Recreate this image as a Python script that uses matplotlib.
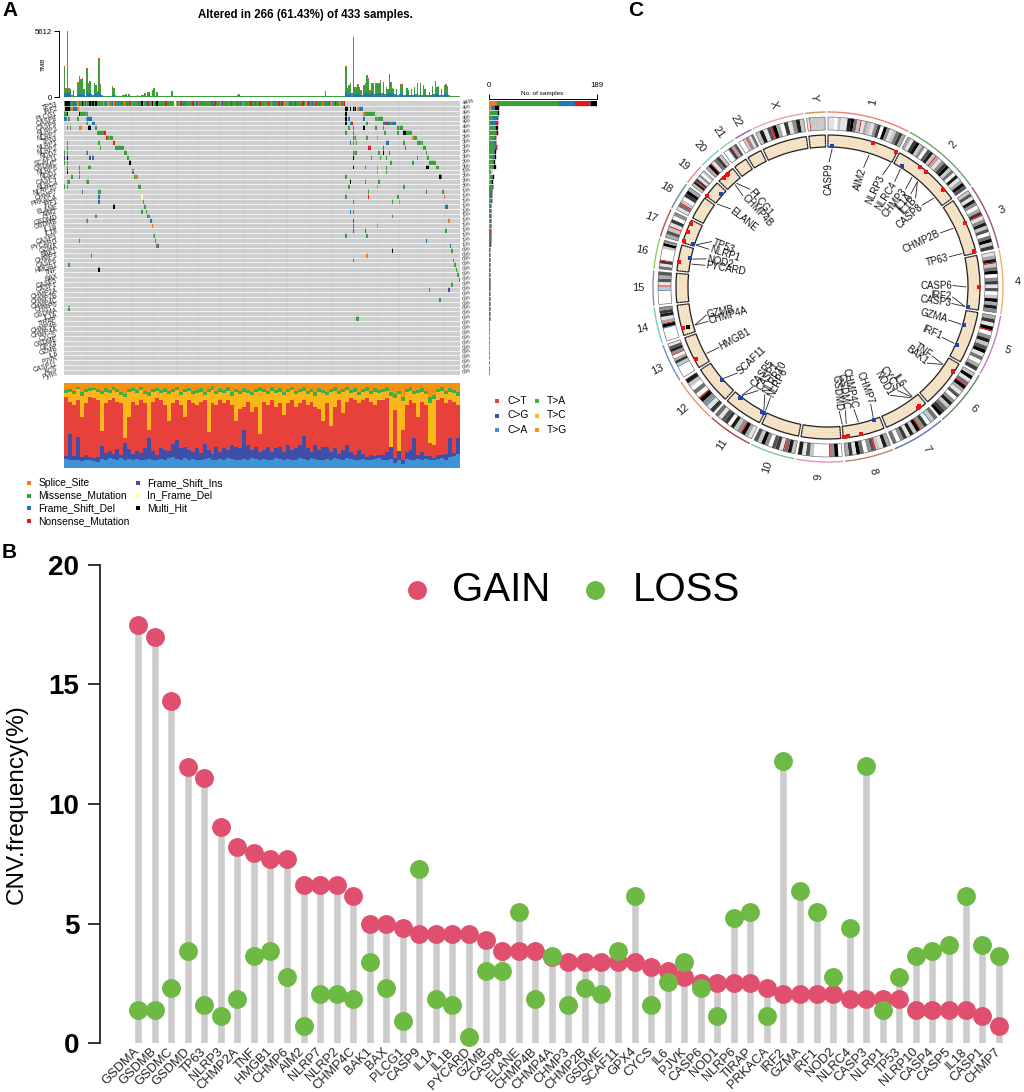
import numpy as np
import matplotlib
matplotlib.use("Agg")
import matplotlib.pyplot as plt
from matplotlib.colors import ListedColormap
from matplotlib.patches import Wedge

plt.rcParams['font.family'] = ['Liberation Sans', 'DejaVu Sans']

W, H = 1024, 1092

# ---------- panel A data ----------
onco_genes = ["TP53", "IRF2", "PLCG1", "CASP8", "CASP9", "NLRP3", "NLRP7", "TP63", "NLRP1", "NLRP2",
              "NOD2", "SCAF11", "GSDMC", "NLRP6", "NOD1", "CASP4", "NLRC4", "NLRP10", "CHMP7", "PRKACA",
              "IRF1", "ELANE", "AIM2", "GSDMD", "GSDMB", "IL1B", "IL18", "CASP3", "PYCARD", "GZMA",
              "BAK1", "CHMP3", "CASP6", "HMGB1", "TNF", "BAX", "CASP5", "CASP1", "CHMP2A", "CHMP2B",
              "CHMP4C", "CHMP6", "GSDMA", "IL1A", "TIRAP", "CHMP4B", "CHMP4A", "CYCS", "GSDME", "GPX4",
              "GZMB", "IL6", "PJVK", "CASP11", "ACS", "Pyrin"]

kinds = ".SMFNIDH"
kind_colors = ["#CFCFCF", "#F47A20", "#3C9E3C", "#1F78B4", "#E31A1C", "#6A3D9A", "#FFFF99", "#000000"]
kind_names = ["Splice_Site", "Missense_Mutation", "Frame_Shift_Del", "Nonsense_Mutation",
              "Frame_Shift_Ins", "In_Frame_Del", "Multi_Hit"]

# first row, one letter per sample
tp53_calls = ("MHHHFMNFMS" "FMHMNFMHNH" "MHMMMMSMFS" "NMFSNMFMNM" "SMFMNFMMMM" "FMHSMFNMMH"
              "MFHMMMMMNM" "MMMMDMMSNM" "FMMMMMNMSF" "NMFMMMMMMF" "MNMMMMIMFM" "MMNMMMNMFM"
              "MMMMMNMMFM" "MNMMMFMNMS" "MFMMNMIMSM" "MMFMMNMMMM" "NMSMIMFMMN" "MFMSMMFMNS"
              "FMNMMSFMN")

# other rows: sample number + mutation kind
call_rows = list(range(1, 39)) + [40, 42, 44]
call_text = [
    "1H 2H 3H 4M 5S 6F 7F 8F 9S 189H 190H 192H 194H 195H 197S 198M 199F 200F",
    "0M 1M 2H 10H 11M 12M 13M 14M 15M 189H 201S 202M 203M 204M 205M 206M 207M 208M",
    "0F 1F 3M 9M 15F 16F 17F 18F 189H 191F 201F 209M 210M 211M 212M 213M",
    "15M 19F 20F 189H 192F 193N 203M 214F 215F 216N 217F 218F 219M 220F 221F 222F",
    "2M 4M 10S 11S 16H 17H 21M 191M 194M 201H 209M 214M 224M 225M 226M 227M",
    "22M 23M 24M 25M 26M 27N 189M 194M 215M 224M 228H 229H 230M 231M 232M 233M",
    "28N 29M 30M 31M 32M 194M 195M 203M 210M 234S 235M 236M",
    "2M 23M 33N 192F 194M 196M 216F 217F 228M 237M 238M 239M 240M",
    "2M 24M 34M 35M 36M 37M 38M 39M 204N 205N 214F 229F 241M 242M",
    "0M 2M 15F 40M 41M 194M 195M 196M 211M 214H 218F 243M",
    "0I 2H 17I 19F 42M 43M 194H 206M 212M 216M 237M 244M",
    "0M 2M 44H 219M 234M 245M 246M 247M 248M 249M",
    "2M 10M 16M 17M 194H 202M 210M 216M 243H 244H 250M 251M",
    "2H 10M 46F 210M 212D 216M",
    "5M 10M 47M 48S 49S 189M 252H 253F",
    "2S 3M 15M 16M 192H 202M 211M",
    "0M 2M 50M 51M 191M 210M 228M",
    "12F 23M 24M 204M 243F 254M",
    "23F 52D 189M 204N 224M 255N",
    "23F 53M 194M 220M 225M",
    "33H 54M 256F 257F",
    "52M 55M 192F 194M",
    "21M 56M 57M 220M",
    "15M 58F 194N 258S",
    "59S 194M 210M",
    "194N 202N 256M",
    "60M 189M 203M",
    "10M 61M 243F",
    "62M 63I 259F",
    "220H 260M",
    "18M 203S",
    "194M 261M",
    "3M 262M",
    "23H 263M",
    "264M",
    "265M",
    "260M",
    "245M 258I",
    "252M",
    "3M",
    "196M 197M",
]
# rows that hold a sample in the side bars only
bar_only_rows = [39, 41, 43]

tmb_total = [2650, 750, 5612, 750, 690, 140, 580, 60, 60, 1270,
             1790, 1555, 1610, 720, 115, 2450, 1150, 1325, 230, 140,
             1210, 1040, 520, 3340, 1065, 170, 85, 60, 85, 60,
             60, 60, 950, 780, 170, 85, 60, 60, 115, 140,
             170, 230, 85, 260, 60, 60, 85, 115, 115, 200,
             85, 60, 200, 140, 345, 85, 400, 400, 60, 635,
             750, 85, 430, 85, 85, 85, 85, 60, 60, 60,
             60, 85, 490,
             85, 60, 60, 85, 60, 60, 85, 115, 60, 85,
             60, 60, 85, 60, 85, 60, 60, 85, 60, 60,
             60, 85, 60, 60, 85, 60, 85, 60, 60, 60,
             85, 60, 85, 60, 60, 85, 60, 60, 85, 115,
             60, 85, 115, 170, 230, 115, 60, 85, 60, 60,
             85, 60, 60, 115, 85, 115, 85, 60, 60, 85,
             60, 115, 60, 60, 60, 85, 60, 85, 60, 60,
             85, 115, 85, 60, 60, 85, 60, 60, 85, 60,
             60, 85, 60, 60, 85, 60, 60, 115, 60, 60,
             85, 60, 60, 85, 60, 60, 85, 60, 60, 60,
             85, 60, 520, 85, 60, 60, 85, 60, 85, 60,
             60, 85, 60, 60, 85, 60,
             2650, 805, 1010, 1210, 345, 5130, 865, 865, 1095, 865,
             575, 145, 1010, 1150, 1870, 1585, 575, 1150, 1210, 290,
             1150, 1150, 1150, 1440, 345, 1295, 230, 865, 720, 1960,
             1295, 805, 720, 290, 720, 145, 230, 1095, 1095, 170,
             145, 805, 635, 170, 720, 145, 865, 290, 1150, 145,
             1150, 145, 1010, 720, 145, 145, 430, 145, 950, 290,
             1355, 865, 950, 145, 720, 145, 1010, 1095, 950, 145,
             115, 60, 60, 85, 60, 60, 60]
# frame shift and nonsense shares for the two clusters of tall bars
fs_left = [350, 340, 360, 330, 320, 40, 60, 10, 10, 230, 260, 250, 260, 200, 30, 400, 230, 300, 60, 40,
           250, 240, 120, 350, 280, 50, 20, 10, 20, 10, 10, 10, 150, 120]
ns_left = [130, 30, 400, 30, 30, 5, 30, 0, 0, 60, 90, 80, 80, 30, 5, 90, 50, 60, 10, 5,
           50, 40, 20, 130, 50, 5, 0, 0, 0, 0, 0, 0, 60, 40]
fs_right = [400, 220, 230, 250, 80, 330, 290, 290, 300, 250, 180, 40, 300, 320, 360, 340, 180, 300, 300, 80,
            290, 300, 300, 350, 100, 320, 60, 260, 220, 380, 320, 250, 220, 90, 220, 40, 70, 280, 280, 50,
            40, 240, 190, 50, 210, 40, 250, 90, 290, 40, 280, 40, 260, 200, 40, 40, 120, 40, 240, 80,
            290, 240, 260, 40, 200, 40, 270, 280, 250, 40, 30, 10, 10, 20, 10, 10, 10]
ns_right = [120, 40, 50, 60, 15, 370, 40, 40, 60, 40, 30, 5, 50, 60, 90, 80, 30, 60, 60, 15,
            60, 60, 60, 70, 15, 60, 10, 40, 30, 100, 60, 40, 30, 15, 30, 5, 10, 50, 50, 10,
            5, 40, 30, 10, 30, 5, 40, 10, 50, 5, 50, 5, 40, 30, 5, 5, 20, 5, 40, 10,
            60, 40, 40, 5, 30, 5, 50, 50, 40, 5, 5, 0, 0, 0, 0, 0, 0]

# cumulative tops (%) of the stacked spectrum, C>A up to T>A, T>G fills the rest
spec_ca = [11, 10, 9, 10, 8, 10, 9, 8, 7, 11, 10, 12, 11, 10, 12, 9, 11, 10, 11, 9,
           10, 11, 10, 9, 11, 10, 12, 13, 11, 10, 12, 10, 11, 9, 10, 11, 12, 10, 9, 11,
           10, 12, 11, 10, 9, 11, 10, 12, 11, 10, 11, 10, 9, 12, 11, 10, 11, 10, 9, 12,
           11, 10, 12, 11, 10, 9, 11, 10, 12, 11, 10, 12, 11, 9, 10, 11, 9, 10, 11, 12,
           10, 9, 11, 6, 10, 5, 11, 9, 10, 11, 9, 11, 10, 9, 11, 12, 10, 13, 14, 16]
spec_cg = [14, 40, 14, 36, 13, 15, 13, 12, 13, 26, 18, 20, 16, 22, 15, 30, 22, 16, 20, 18,
           23, 35, 20, 15, 23, 21, 20, 28, 33, 23, 25, 21, 19, 23, 18, 28, 21, 17, 25, 19,
           23, 21, 27, 25, 23, 45, 27, 21, 25, 19, 21, 25, 19, 23, 25, 19, 27, 21, 23, 27,
           38, 23, 19, 27, 21, 25, 25, 19, 23, 17, 21, 27, 19, 15, 21, 17, 13, 15, 14, 15,
           15, 19, 27, 12, 23, 10, 19, 21, 35, 15, 19, 14, 14, 12, 15, 15, 17, 35, 18, 35]
spec_ct = [84, 78, 74, 80, 60, 76, 84, 82, 80, 43, 76, 80, 82, 78, 76, 35, 60, 78, 74, 80,
           76, 45, 78, 82, 80, 74, 55, 76, 80, 74, 60, 80, 76, 74, 78, 80, 42, 76, 74, 80,
           76, 80, 74, 55, 70, 72, 78, 66, 72, 40, 78, 74, 80, 72, 76, 62, 76, 80, 72, 76,
           80, 74, 78, 72, 70, 55, 76, 50, 72, 80, 65, 78, 82, 80, 76, 80, 82, 78, 74, 80,
           80, 82, 25, 68, 20, 45, 74, 80, 76, 60, 78, 74, 30, 27, 80, 82, 76, 80, 78, 74]
spec_tc = [88, 90, 87, 93, 85, 89, 91, 92, 89, 87, 90, 88, 92, 89, 86, 83, 89, 91, 88, 92,
           87, 85, 89, 91, 88, 90, 87, 89, 92, 86, 89, 91, 87, 88, 90, 86, 89, 92, 87, 90,
           88, 91, 85, 89, 87, 90, 88, 86, 89, 91, 89, 87, 91, 88, 90, 86, 89, 92, 87, 89,
           91, 87, 89, 85, 90, 88, 86, 89, 91, 87, 89, 92, 88, 90, 86, 89, 91, 87, 90, 88,
           89, 91, 85, 82, 87, 79, 89, 91, 87, 88, 90, 87, 77, 81, 89, 91, 87, 90, 88, 85]
spec_ta = [92, 93, 91, 95, 89, 93, 94, 94, 93, 91, 94, 92, 95, 93, 90, 87, 93, 94, 92, 95,
           91, 90, 93, 94, 92, 94, 91, 93, 95, 90, 93, 94, 91, 92, 94, 90, 93, 96, 91, 94,
           92, 95, 90, 93, 91, 94, 92, 90, 93, 95, 93, 91, 95, 92, 94, 90, 93, 95, 91, 93,
           95, 91, 93, 90, 94, 92, 90, 93, 95, 91, 93, 95, 92, 94, 90, 93, 95, 91, 94, 92,
           93, 95, 90, 87, 91, 84, 93, 95, 91, 92, 94, 91, 83, 86, 93, 95, 91, 94, 92, 89]
spec_names = ["C>T", "C>G", "C>A", "T>A", "T>C", "T>G"]
spec_colors = ["#E8403B", "#3F4FA8", "#3E93D5", "#3BAF4B", "#F9B71A", "#F49214"]

# ---------- panel B data ----------
cnv_genes = ["GSDMA", "GSDMB", "GSDMC", "GSDMD", "TP63", "NLRP3", "CHMP2A", "TNF", "HMGB1", "CHMP6",
             "AIM2", "NLRP7", "NLRP2", "CHMP4C", "BAK1", "BAX", "PLCG1", "CASP9", "IL1A", "IL1B",
             "PYCARD", "GZMB", "CASP8", "ELANE", "CHMP4B", "CHMP4A", "CHMP3", "CHMP2B", "GSDME", "SCAF11",
             "GPX4", "CYCS", "IL6", "PJVK", "CASP6", "NOD1", "NLRP6", "TIRAP", "PRKACA", "IRF2",
             "GZMA", "IRF1", "NOD2", "NLRC4", "CASP3", "NLRP1", "TP53", "NLRP10", "CASP4", "CASP5",
             "IL18", "CASP1", "CHMP7"]
cnv_gain = [17.5, 17.0, 14.3, 11.55, 11.1, 9.05, 8.2, 7.95, 7.7, 7.7,
            6.6, 6.6, 6.6, 6.15, 5.0, 5.0, 4.8, 4.55, 4.55, 4.55,
            4.55, 4.3, 3.85, 3.85, 3.85, 3.6, 3.4, 3.4, 3.4, 3.4,
            3.4, 3.2, 3.0, 2.75, 2.5, 2.5, 2.5, 2.5, 2.3, 2.05,
            2.05, 2.05, 2.05, 1.85, 1.85, 1.85, 1.85, 1.4, 1.4, 1.4,
            1.4, 1.15, 0.7]
cnv_loss = [1.4, 1.4, 2.3, 3.85, 1.6, 1.15, 1.85, 3.65, 3.85, 2.75,
            0.7, 2.05, 2.05, 1.85, 3.4, 2.3, 0.9, 7.3, 1.85, 1.6,
            0.25, 3.0, 3.0, 5.5, 1.85, 3.65, 1.6, 2.3, 2.05, 3.85,
            6.15, 1.6, 2.55, 3.4, 2.3, 1.15, 5.25, 5.5, 1.15, 11.8,
            6.35, 5.5, 2.75, 4.8, 11.6, 1.4, 2.75, 3.65, 3.85, 4.1,
            6.15, 4.1, 3.65]

# ---------- panel C data ----------
chroms = [str(i) for i in range(1, 23)] + ["X", "Y"]
chrom_mb = [248.96, 242.19, 198.30, 190.21, 181.54, 170.81, 159.35, 145.14, 138.39, 133.80, 135.09, 133.28,
            114.36, 107.04, 101.99, 90.34, 83.26, 80.37, 58.62, 64.44, 46.71, 50.82, 156.04, 57.23]
chrom_arc = ["#F08070", "#6AA56A", "#A05080", "#F5B060", "#C080C0", "#5E8A5E", "#6070C0", "#C08060",
             "#E890C0", "#80C890", "#B04040", "#F09070", "#7090D0", "#70D0C0", "#A080C0", "#90D060",
             "#B05050", "#609090", "#F08080", "#80C8D8", "#90D0B0", "#9060B0", "#F0A0A0", "#D09050"]
# one character per band: 0 white .. 9 black, r centromere red, b blue stalk
chrom_bands = ["1102118952r13214709412573", "3179240682r3147925081396", "26184037r1482605927",
               "138r25904716029384", "3719r04826915037", "2915r93160482579", "52b074r92817405", "3812r64059173",
               "094r00002618", "285r17604926", "139r42807615", "71b49r05028", "0000b2730r4861",
               "0000b9r31874", "0000b2r1636", "517r0000294", "362r1704", "15r20793", "28r71402", "39r1572",
               "00b7r36", "00b2r415", "2816r93071482", "1r222222"]

circ_genes = ["CASP9", "AIM2", "NLRP3", "NLRC4", "CHMP3", "IL1A", "IL1B", "CASP8", "CHMP2B", "TP63",
              "CASP6", "IRF2", "CASP3", "GZMA", "IRF1", "TNF", "BAK1", "IL6", "CYCS", "NOD1",
              "CHMP7", "CHMP4C", "GSDMC", "GSDMD", "NLRP6", "NLRP10", "CASP1", "CASP5", "SCAF11", "HMGB1",
              "CHMP4A", "GZMB", "PYCARD", "NOD2", "NLRP1", "TP53", "ELANE", "CHMP4B", "PLCG1"]
circ_chrom = ["1", "1", "1", "2", "2", "2", "2", "2", "3", "3",
              "4", "4", "4", "5", "5", "6", "6", "7", "7", "7",
              "8", "8", "8", "8", "11", "11", "11", "11", "12", "13",
              "14", "14", "16", "16", "17", "17", "19", "20", "20"]
circ_mb = [15.5, 159, 247, 32, 86, 112.8, 112.9, 201, 87, 189,
           110, 184, 184.5, 55, 132, 31.5, 33.5, 22.7, 25, 30.5,
           23, 82, 129, 144, 0.3, 7.9, 105, 107, 57, 30.5,
           24.2, 24.6, 31, 50.7, 5.5, 7.6, 0.85, 33, 41]
circ_level = [0.1, 0.9, 0.9, 0.15, 0.9, 0.9, 0.9, 0.85, 0.9, 0.85,
              0.9, 0.12, 0.12, 0.12, 0.1, 0.9, 0.9, 0.85, 0.85, 0.85,
              0.1, 0.88, 0.9, 0.9, 0.12, 0.12, 0.1, 0.1, 0.12, 0.85,
              0.5, 0.9, 0.9, 0.1, 0.1, 0.9, 0.9, 0.9, 0.9]
circ_kind = ["loss", "gain", "gain", "loss", "gain", "gain", "gain", "gain", "gain", "gain",
             "gain", "loss", "loss", "loss", "loss", "gain", "gain", "gain", "gain", "gain",
             "loss", "gain", "gain", "gain", "loss", "loss", "loss", "loss", "loss", "gain",
             "both", "gain", "gain", "loss", "loss", "gain", "gain", "gain", "gain"]
circ_label_theta = [0.5, 16.6, 26, 32.3, 38.4, 41.6, 44.5, 49, 64.3, 76,
                    89.3, 94.6, 97.6, 105.3, 113.8, 123.5, 127.5, 143, 146, 150,
                    160, 168, 172, 174.8, 207.5, 210.4, 214, 217, 226.5, 241,
                    254, 257, 280, 283, 287.6, 291.3, 308.7, 317, 321.4]
# dots without a gene label
extra_chrom = ["17", "17", "19", "20"]
extra_mb = [40, 72, 40, 20]
extra_level = [0.9, 0.9, 0.15, 0.9]
extra_kind = ["gain", "gain", "loss", "gain"]


def px_axes(x0, y0, x1, y1):
    return fig.add_axes([x0 / W, 1 - y1 / H, (x1 - x0) / W, (y1 - y0) / H])


fig = plt.figure(figsize=(W / 100, H / 100), dpi=100)

# overlay in pixel coordinates for letters and legends
ov = fig.add_axes([0, 0, 1, 1], zorder=5)
ov.set_xlim(0, W)
ov.set_ylim(H, 0)
ov.axis("off")
ov.text(2, 11, "A", fontsize=15, fontweight="bold", va="center")
ov.text(2, 553, "B", fontsize=15, fontweight="bold", va="center")
ov.text(628, 10, "C", fontsize=15, fontweight="bold", va="center")
ov.text(305, 15, "Altered in 266 (61.43%) of 433 samples.", fontsize=8.3, fontweight="bold",
        ha="center", va="center")

# ---------- oncoplot grid ----------
n_rows = len(onco_genes)
n_cols = 266
matrix = np.zeros((n_rows, n_cols), dtype=int)
for c, k in enumerate(tp53_calls):
    matrix[0, c] = kinds.index(k)
for r, txt in zip(call_rows, call_text):
    for call in txt.split():
        matrix[r, int(call[:-1])] = kinds.index(call[-1])

ax = px_axes(64, 101, 460, 375)
ax.imshow(matrix, aspect="auto", interpolation="nearest", cmap=ListedColormap(kind_colors),
          vmin=0, vmax=7, extent=(0, n_cols, n_rows, 0))
ax.vlines(np.arange(15, n_cols, 15), 0, n_rows, color="#C4C4C4", lw=0.5, alpha=0.7)
ax.hlines(np.arange(1, n_rows), 0, n_cols, color="white", lw=0.6, alpha=0.8)
ax.set_yticks(np.arange(n_rows) + 0.5)
ax.set_yticklabels(onco_genes, fontsize=4.7, rotation=15, rotation_mode="anchor", ha="right", color="#222222")
ax.set_xticks([])
ax.tick_params(left=False, pad=1.5)
for s in ax.spines.values():
    s.set_visible(False)

counts = np.array([[(matrix[r] == k).sum() for k in range(1, 8)] for r in range(n_rows)])
for r in range(n_rows):
    pct = int(round(counts[r].sum() / 433 * 100))
    ax.text(n_cols + 1.5, r + 0.5, f"{pct}%", fontsize=4.3, rotation=15, rotation_mode="anchor",
            va="center", ha="left", color="#222222", clip_on=False)

# ---------- TMB bars ----------
ax = px_axes(64, 31, 460, 97)
tmb_total = np.array(tmb_total, dtype=float)
tmb_fs = np.full(n_cols, 8.0)
tmb_ns = np.full(n_cols, 4.0)
tmb_fs[:len(fs_left)] = fs_left
tmb_ns[:len(ns_left)] = ns_left
tmb_fs[189:189 + len(fs_right)] = fs_right
tmb_ns[189:189 + len(ns_right)] = ns_right
tmb_mis = tmb_total - tmb_fs - tmb_ns
cols = np.arange(n_cols) + 0.5
ax.bar(cols, tmb_fs, width=1.0, color=kind_colors[3], lw=0)
ax.bar(cols, tmb_mis, width=1.0, bottom=tmb_fs, color=kind_colors[2], lw=0)
ax.bar(cols, tmb_ns, width=1.0, bottom=tmb_fs + tmb_mis, color="#F0503A", lw=0)
ax.set_xlim(0, n_cols)
ax.set_ylim(0, 5612)
ax.set_yticks([0, 5612])
ax.tick_params(axis="y", labelsize=5.6, length=3.5, width=0.7, pad=1.5)
ax.set_xticks([])
for side in ["top", "right", "bottom"]:
    ax.spines[side].set_visible(False)
ax.spines["left"].set_position(("outward", 3.5))
ax.spines["left"].set_linewidth(0.7)
ax.set_ylabel("TMB", fontsize=4.6, labelpad=-8)

# ---------- samples bar ----------
ax = px_axes(489, 101, 597, 375)
counts_bar = counts.copy()
counts_bar[bar_only_rows, 1] += 1
left = np.zeros(n_rows)
for k in range(7):
    ax.barh(np.arange(n_rows) + 0.5, counts_bar[:, k], left=left, height=0.85, color=kind_colors[k + 1],
            edgecolor=kind_colors[k + 1], lw=0.25)
    left += counts_bar[:, k]
ax.set_xlim(0, 189)
ax.set_ylim(n_rows, 0)
ax.set_yticks([])
ax.xaxis.tick_top()
ax.set_xticks([0, 189])
ax.tick_params(axis="x", labelsize=5.6, length=3.6, width=0.7, pad=3.5)
for side in ["left", "right", "bottom"]:
    ax.spines[side].set_visible(False)
ax.spines["top"].set_position(("outward", 1.5))
ax.spines["top"].set_linewidth(0.7)
ov.text(542, 94, "No. of samples", fontsize=4.6, ha="center", va="center")

# ---------- spectrum ----------
ax = px_axes(64, 383, 460, 468)
xs = np.arange(len(spec_ca))
bot = np.zeros(len(xs))
layers = [(spec_ca, spec_colors[2]), (spec_cg, spec_colors[1]), (spec_ct, spec_colors[0]),
          (spec_tc, spec_colors[4]), (spec_ta, spec_colors[3]), ([100] * len(xs), spec_colors[5])]
for top, col in layers:
    top = np.array(top, dtype=float)
    ax.bar(xs, top - bot, bottom=bot, width=1.0, color=col, lw=0)
    bot = top
ax.set_xlim(-0.5, len(xs) - 0.5)
ax.set_ylim(0, 100)
ax.axis("off")

# spectrum legend
for i, name in enumerate(spec_names):
    lx = 497 + 40 * (i // 3)
    ly = 401 + 14.5 * (i % 3)
    ov.scatter([lx], [ly], s=9, marker="s", color=spec_colors[i], lw=0)
    ov.text(lx + 10, ly, name, fontsize=7.4, va="center")

# mutation legend
for i, name in enumerate(kind_names):
    lx = 29 + 109 * (i // 4)
    ly = 483 + 12.6 * (i % 4)
    ov.scatter([lx], [ly], s=9, marker="s", color=kind_colors[i + 1], lw=0)
    ov.text(lx + 9.5, ly, name, fontsize=7.4, va="center")

# ---------- panel B ----------
ax = px_axes(100, 565, 1010, 1043)
xpos = np.arange(len(cnv_genes))
stem_top = np.maximum(cnv_gain, cnv_loss)
ax.vlines(xpos, 0, stem_top, color="#CCCCCC", lw=4.7, zorder=1)
ax.scatter(xpos, cnv_gain, s=185, color="#E0506E", lw=0, zorder=2, clip_on=False)
ax.scatter(xpos, cnv_loss, s=185, color="#6DB944", lw=0, zorder=3, clip_on=False)
ax.set_xlim((100 - 138) / 16.55, (1010 - 138) / 16.55)
ax.set_ylim(0, 20)
ax.set_yticks([0, 5, 10, 15, 20])
ax.set_yticklabels(["0", "5", "10", "15", "20"], fontsize=20, fontweight="bold")
ax.tick_params(axis="y", length=9, width=1.1, pad=6)
ax.set_xticks(xpos)
ax.set_xticklabels(cnv_genes, fontsize=9.3, rotation=45, ha="right", va="center", rotation_mode="anchor",
                   color="#222222")
ax.tick_params(axis="x", length=0, pad=5)
for side in ["top", "right", "bottom"]:
    ax.spines[side].set_visible(False)
ax.spines["left"].set_linewidth(1.1)
ax.set_ylabel("CNV.frequency(%)", fontsize=17.5, labelpad=15)

ov.scatter([417], [590], s=185, color="#E0506E", lw=0)
ov.text(452, 590, "GAIN", fontsize=29, va="center")
ov.scatter([595], [590], s=185, color="#6DB944", lw=0)
ov.text(633, 590, "LOSS", fontsize=29, va="center")

# ---------- panel C ----------
cx, cy, RR = 828, 287, 205
ax = px_axes(cx - RR, cy - RR, cx + RR, cy + RR)
ax.set_xlim(-RR, RR)
ax.set_ylim(-RR, RR)
ax.set_aspect("equal")
ax.axis("off")

gap = 1.0
deg_per_mb = (360 - gap * len(chroms)) / sum(chrom_mb)
starts = {}
theta = 0.0


def polar(th, r):
    rad = np.deg2rad(90 - th)
    return r * np.cos(rad), r * np.sin(rad)


def band_color(ch):
    if ch == "r":
        return "#F01010"
    if ch == "b":
        return "#4A90C8"
    return str(1 - int(ch) / 9)


for name, mb, arc_col, bands in zip(chroms, chrom_mb, chrom_arc, chrom_bands):
    span = mb * deg_per_mb
    starts[name] = theta
    # outer coloured arc
    ths = np.linspace(theta, theta + span, 60)
    ax.plot(*polar(ths, 175), color=arc_col, lw=1)
    # ideogram, red and blue bands drawn thin
    weights = [0.35 if ch in "rb" else 1.0 for ch in bands]
    a = theta
    for ch, wt in zip(bands, weights):
        bw = span * wt / sum(weights)
        ax.add_patch(Wedge((0, 0), 170, 90 - (a + bw), 90 - a, width=13, fc=band_color(ch), ec="none"))
        a += bw
    ax.add_patch(Wedge((0, 0), 170, 90 - (theta + span), 90 - theta, width=13, fc="none", ec="#555555", lw=0.4))
    # cnv track
    ax.add_patch(Wedge((0, 0), 152, 90 - (theta + span), 90 - theta, width=12, fc="#F2DCBB", ec="none"))
    for r in [142.4, 144.8, 147.2, 149.6]:
        ax.plot(*polar(ths, r), color="#FFFFFF", lw=0.35, alpha=0.8)
    ax.add_patch(Wedge((0, 0), 152, 90 - (theta + span), 90 - theta, width=12, fc="none", ec="#222222", lw=0.9))
    # chromosome name
    mid = theta + span / 2
    lx, ly = polar(mid, 190)
    rot = 90 - mid if mid < 180 else 270 - mid
    ax.text(lx, ly, name, fontsize=8, rotation=rot, ha="center", va="center", rotation_mode="anchor",
            color="#222222")
    theta += span + gap

dot_cols = {"gain": "#F01010", "loss": "#1F45A8", "both": "#000000"}
for ch, mb, lev, kind in zip(extra_chrom, extra_mb, extra_level, extra_kind):
    x, y = polar(starts[ch] + mb * deg_per_mb, 140 + 12 * lev)
    ax.scatter([x], [y], s=9, marker="s", color=dot_cols[kind], lw=0, zorder=4)

for gene, ch, mb, lev, kind, lab_th in zip(circ_genes, circ_chrom, circ_mb, circ_level, circ_kind, circ_label_theta):
    th = starts[ch] + mb * deg_per_mb
    x, y = polar(th, 140 + 12 * lev)
    ax.scatter([x], [y], s=9, marker="s", color=dot_cols[kind], lw=0, zorder=4)
    x0, y0 = polar(th, 138)
    x1, y1 = polar(lab_th, 125)
    ax.plot([x0, x1], [y0, y1], color="#222222", lw=0.6)
    tx, ty = polar(lab_th, 124)
    if lab_th < 180:
        ax.text(tx, ty, gene, fontsize=7, rotation=90 - lab_th, ha="right", va="center",
                rotation_mode="anchor", color="#111111")
    else:
        ax.text(tx, ty, gene, fontsize=7, rotation=270 - lab_th, ha="left", va="center",
                rotation_mode="anchor", color="#111111")

fig.savefig("out.png", dpi=100)
